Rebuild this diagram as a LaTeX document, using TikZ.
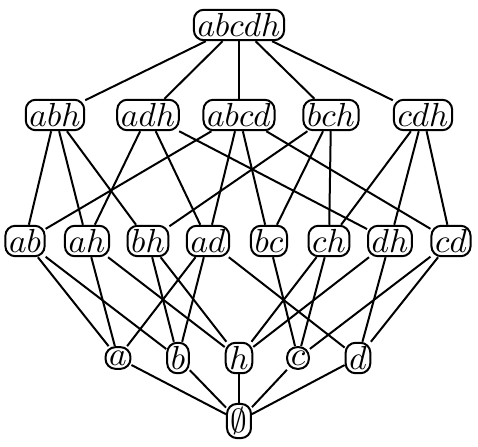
\documentclass[tikz,border=0pt]{standalone}
\usepackage{tikz}

\begin{document}
\begin{tikzpicture}[x=0.3pt, y=-0.3pt, semithick,
  elt/.style={draw, rounded corners=3pt, inner sep=1.1pt}]
  \useasboundingbox (0,0) rectangle (478,447);
  \node[elt] (top)  at (239,25)  {$abcdh$};
  \node[elt] (abh)  at (55,115)  {$abh$};
  \node[elt] (adh)  at (148,115) {$adh$};
  \node[elt] (abcd) at (239,115) {$abcd$};
  \node[elt] (bch)  at (331,115) {$bch$};
  \node[elt] (cdh)  at (423,115) {$cdh$};
  \node[elt] (ab) at (25,241)  {$ab$};
  \node[elt] (ah) at (87,241)  {$ah$};
  \node[elt] (bh) at (148,241) {$bh$};
  \node[elt] (ad) at (208,241) {$ad$};
  \node[elt] (bc) at (269,241) {$bc$};
  \node[elt] (ch) at (329,241) {$ch$};
  \node[elt] (dh) at (390,241) {$dh$};
  \node[elt] (cd) at (451,241) {$cd$};
  \node[elt] (a) at (118,358) {$a$};
  \node[elt] (b) at (178,358) {$b$};
  \node[elt] (h) at (239,358) {$h$};
  \node[elt] (c) at (298,358) {$c$};
  \node[elt] (d) at (358,358) {$d$};
  \node[elt] (emp) at (239,421) {$\emptyset$};
  % top level
  \draw (top) -- (abh);  \draw (top) -- (adh);  \draw (top) -- (abcd);
  \draw (top) -- (bch);  \draw (top) -- (cdh);
  % three-element sets
  \draw (abh) -- (ab);   \draw (abh) -- (ah);   \draw (abh) -- (bh);
  \draw (adh) -- (ah);   \draw (adh) -- (ad);   \draw (adh) -- (dh);
  \draw (abcd) -- (ab);  \draw (abcd) -- (ad);  \draw (abcd) -- (bc);
  \draw (abcd) -- (cd);
  \draw (bch) -- (bh);   \draw (bch) -- (bc);   \draw (bch) -- (ch);
  \draw (cdh) -- (ch);   \draw (cdh) -- (dh);   \draw (cdh) -- (cd);
  % pairs
  \draw (ab) -- (a);  \draw (ab) -- (b);
  \draw (ah) -- (a);  \draw (ah) -- (h);
  \draw (bh) -- (b);  \draw (bh) -- (h);
  \draw (ad) -- (a);  \draw (ad) -- (b);  \draw (ad) -- (d);
  \draw (bc) -- (c);
  \draw (ch) -- (c);  \draw (ch) -- (h);
  \draw (dh) -- (d);  \draw (dh) -- (h);
  \draw (cd) -- (c);  \draw (cd) -- (d);
  % singletons
  \draw (a) -- (emp);  \draw (b) -- (emp);  \draw (h) -- (emp);
  \draw (c) -- (emp);  \draw (d) -- (emp);
\end{tikzpicture}
\end{document}
